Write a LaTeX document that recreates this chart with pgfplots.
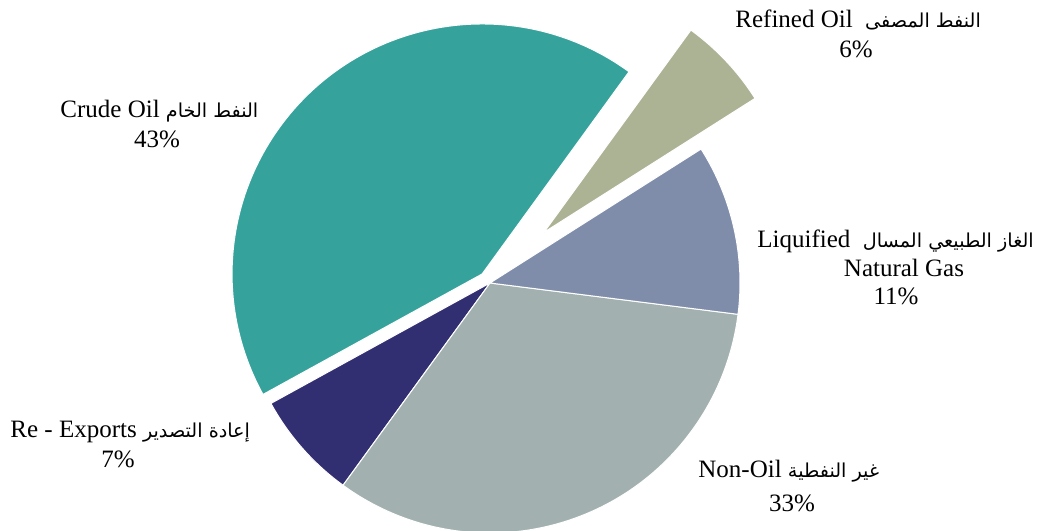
\documentclass[border=0pt]{standalone}
\usepackage{pgfplots}
\pgfplotsset{compat=1.18}
\usepackage{pgfplotstable}
\usepackage{fontspec}
\setmainfont{Liberation Serif}
\newfontfamily\arabicfont[Script=Arabic]{DejaVu Sans}
\TeXXeTstate=1

% slice colours, in table order
\definecolor{slice0}{HTML}{ACB294} % refined oil
\definecolor{slice1}{HTML}{35A29C} % crude oil
\definecolor{slice2}{HTML}{322E72} % re-exports
\definecolor{slice3}{HTML}{A2B1AF} % non-oil
\definecolor{slice4}{HTML}{7F8DAA} % LNG

% share in percent, explode distance (px)
\pgfplotstableread{
pct explode
6   74
43  12
7   0
33  0
11  0
}\piedata

\newcommand{\ar}[1]{{\arabicfont\fontsize{9.6}{12}\selectfont\beginR #1\endR}}
\tikzset{lbl/.style={font=\fontsize{12.5}{15}\selectfont, inner sep=0pt}}

\begin{document}
\fontsize{12.5}{15}\selectfont
\begin{tikzpicture}
\begin{axis}[
    x=0.5pt, y=0.5pt,
    xmin=0, xmax=1046, ymin=0, ymax=531,
    hide axis,
]
\path (axis cs:0,0) rectangle (axis cs:1046,531);
\def\acc{32.4}
\pgfplotsforeachungrouped \i in {0,...,4}{%
  \pgfplotstablegetelem{\i}{pct}\of\piedata \let\pct\pgfplotsretval
  \pgfplotstablegetelem{\i}{explode}\of\piedata \let\ex\pgfplotsretval
  \pgfmathsetmacro{\a}{\acc}
  \pgfmathsetmacro{\b}{\acc+3.6*\pct}
  \pgfmathsetmacro{\m}{(\a+\b)/2}
  \pgfmathsetmacro{\cx}{490+\ex*cos(\m)}
  \pgfmathsetmacro{\cy}{248+\ex*sin(\m)}
  \edef\doslice{\noexpand\fill[draw=white, line width=0.5pt, fill=slice\i]
    (axis cs:\cx,\cy) -- ++(\a:125pt) arc[start angle=\a, end angle=\b, radius=125pt] -- cycle;}
  \doslice
  \let\acc\b
}

% labels
\node[lbl, anchor=base west] at (axis cs:735,503) {Refined Oil\ \ \ar{النفط المصفى}};
\node[lbl, anchor=base] at (axis cs:856,473) {6\%};
\node[lbl, anchor=base west] at (axis cs:60,413) {Crude Oil\ \ar{النفط الخام}};
\node[lbl, anchor=base] at (axis cs:157,383) {43\%};
\node[lbl, anchor=base west] at (axis cs:757,283) {Liquified\ \ \ar{الغاز الطبيعي المسال}};
\node[lbl, anchor=base] at (axis cs:904,254) {Natural Gas};
\node[lbl, anchor=base] at (axis cs:896,226) {11\%};
\node[lbl, anchor=base west] at (axis cs:10,93) {Re - Exports\ \ar{إعادة التصدير}};
\node[lbl, anchor=base] at (axis cs:118,63) {7\%};
\node[lbl, anchor=base west] at (axis cs:698,54) {Non-Oil\ \ar{غير النفطية}};
\node[lbl, anchor=base] at (axis cs:792,19) {33\%};
\end{axis}
\end{tikzpicture}
\end{document}
